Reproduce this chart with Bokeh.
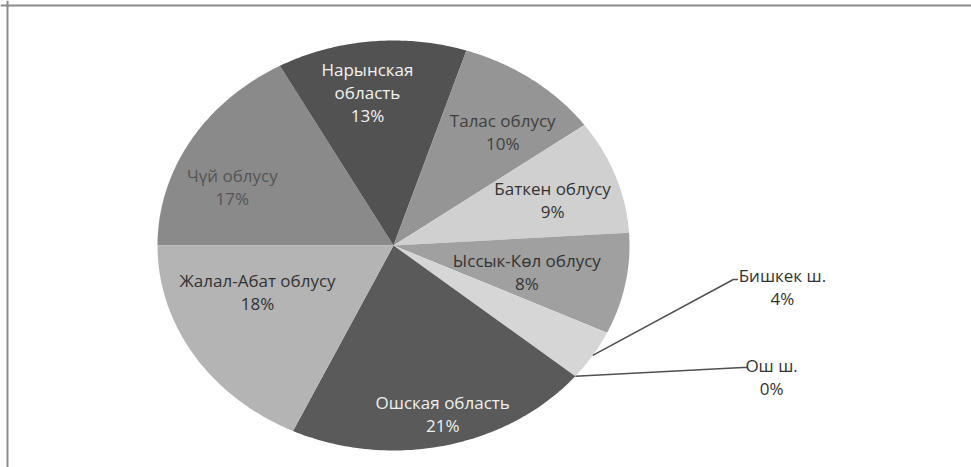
import numpy as np
from bokeh.plotting import figure
from bokeh.models import ColumnDataSource, Span
from bokeh.embed import file_html
from bokeh.resources import INLINE
from bokeh.core.properties import value

# ---- data (clockwise, starting at the 9 o'clock boundary) ----
regions = ["Чүй облусу", "Нарынская\nобласть", "Талас облусу", "Баткен облусу",
           "Ыссык-Көл облусу", "Бишкек ш.", "Ош ш.", "Ошская область",
           "Жалал-Абат облусу"]
shares = [17, 13, 10, 9, 8, 4, 0, 21, 18]

# ---- styles ----
colors = ["#8a8a8a", "#525252", "#959595", "#d0d0d0", "#a0a0a0",
          "#d6d6d6", "#4a4a4a", "#5a5a5a", "#b4b4b4"]
text_colors = ["#555555", "#f2f2f2", "#404040", "#333333", "#333333",
               "#333333", "#333333", "#f0f0f0", "#333333"]
# label placement (fraction of radius, angular nudge in degrees); None = outside label
label_r = [0.74, 0.755, 0.72, 0.71, 0.58, None, None, 0.85, 0.62]
label_shift = [8.0, 3.0, -4.0, -1.5, -2.3, 0, 0, 1.6, -10.7]
# outside labels: leader end and text centre (in radius units)
outside = {5: ((1.44, -0.166), (1.648, -0.20)),
           6: ((1.48, -0.595), (1.602, -0.64))}

W, H = 971, 467
CX, CY = 393, 245      # pie centre in px
RX, RY = 236, 205      # pie radii in px

p = figure(width=W, height=H, output_backend="svg", toolbar_location=None,
           x_range=(-CX / RX, (W - CX) / RX), y_range=(-(H - CY) / RY, CY / RY),
           min_border=0, outline_line_color=None)
p.axis.visible = False
p.grid.visible = False
p.background_fill_color = "white"
p.border_fill_color = "white"

total = float(sum(shares))
start = np.pi
cum = np.cumsum([0] + shares) / total * 2 * np.pi
xs, ys, fills = [], [], []
for i, s in enumerate(shares):
    if s == 0:
        continue
    a0, a1 = start - cum[i], start - cum[i + 1]
    t = np.linspace(a0, a1, 80)
    xs.append(np.concatenate([[0], np.cos(t)]))
    ys.append(np.concatenate([[0], np.sin(t)]))
    fills.append(colors[i])
p.patches(xs=xs, ys=ys, fill_color=fills, line_color=None)

font = value("Open Sans")
lx, ly, lt, lc = [], [], [], []
for i, (name, s) in enumerate(zip(regions, shares)):
    mid = start - (cum[i] + cum[i + 1]) / 2
    txt = f"{name}\n{s}%"
    if label_r[i] is not None:
        th = mid + np.radians(label_shift[i])
        lx.append(label_r[i] * np.cos(th))
        ly.append(label_r[i] * np.sin(th))
    else:
        (ex, ey), (tx, ty) = outside[i]
        p.line([np.cos(mid), ex, ex + 0.02], [np.sin(mid), ey, ey],
               line_color="#505050", line_width=1.5)
        lx.append(tx)
        ly.append(ty)
    lt.append(txt)
    lc.append(text_colors[i])

src = ColumnDataSource(dict(x=lx, y=ly, text=lt, color=lc))
p.text(x="x", y="y", text="text", source=src, text_color="color",
       text_font=font, text_font_size="17px", text_align="center",
       text_baseline="middle", text_line_height=1.0)

# frame lines (top and left), as in the scanned figure
p.add_layout(Span(location=(CY - 5) / RY, dimension="width", line_color="#8c8c8c", line_width=2))
p.add_layout(Span(location=-(CX - 7) / RX, dimension="height", line_color="#8c8c8c", line_width=2))

open("out.html", "w").write(file_html(p, INLINE))
